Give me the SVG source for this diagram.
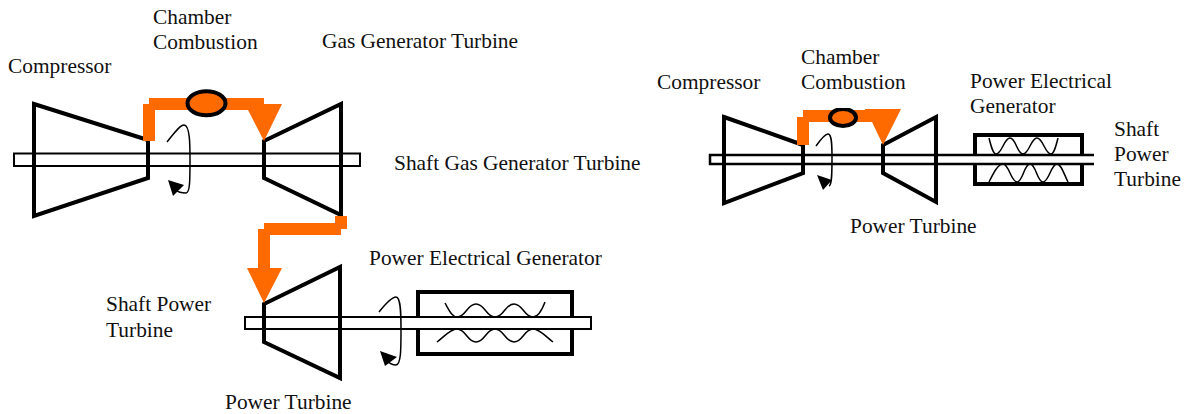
<svg xmlns="http://www.w3.org/2000/svg" width="1192" height="414" viewBox="0 0 1192 414">
<style>
text{font-family:"Liberation Serif","Times New Roman",serif;font-size:21.4px;fill:#111}
.t{fill:none;stroke:#000;stroke-width:4;stroke-linejoin:miter}
.s{fill:#fff;stroke:#000;stroke-width:2}
.o{fill:#ff6a00}
.e{fill:#ff6a00;stroke:#000;stroke-width:4}
.w{fill:none;stroke:#000;stroke-width:1.5}
.h{fill:#000}
</style>
<defs><clipPath id="c"><rect x="820" y="108" width="50" height="30"/></clipPath></defs>
<rect width="1192" height="414" fill="#fff"/>
<g id="generator-left">
<rect class="t" x="418" y="292" width="154" height="62"/>
<path class="w" d="M445 303C449 310 452 317 457 317C466 317 467 304 476 304C485 304 486 317 495 317C504 317 505 304 514 304C523 304 524 317 533 317C538 317 542 310 545 302"/>
<path class="w" d="M437 342C444 337 450 329 457 329C466 329 467 342 476 342C485 342 486 329 495 329C504 329 505 342 514 342C523 342 524 329 533 329C540 329 546 337 553 342"/>
</g>
<g id="generator-right">
<rect class="t" x="975" y="135" width="107" height="49"/>
<path class="w" d="M989 138C991 146 993 154 996 154C1002 154 1004 138 1010 138C1016 138 1017 154 1023 154C1029 154 1031 138 1037 138C1043 138 1045 154 1051 154C1054 154 1056 146 1058 138"/>
<path class="w" d="M989 182C994 172 998 164 1003 164C1009 164 1011 182 1017 182C1023 182 1024 164 1030 164C1036 164 1037 182 1043 182C1049 182 1051 164 1057 164C1061 164 1064 174 1068 182"/>
</g>
<g id="shafts">
<rect class="s" x="14" y="153.500" width="346" height="12.500"/>
<rect class="s" x="245" y="317" width="346" height="12"/>
<path d="M1094 155H710V164H1094" fill="#fff" stroke="#000" stroke-width="2.500"/>
</g>
<g id="compressor-left"><path class="t" d="M34 104L148 140V178L34 216Z"/></g>
<g id="gas-generator-turbine"><path class="t" d="M264 141L341 104V215L264 178Z"/></g>
<g id="power-turbine-left"><path class="t" d="M264 304L340 267V378L264 342Z"/></g>
<g id="compressor-right"><path class="t" d="M724 117L803 145V173L724 203Z"/></g>
<g id="power-turbine-right"><path class="t" d="M883 145L936 117V202L883 173Z"/></g>
<g id="connectors">
<path class="o" d="M143 141V104H149V98H264V104H282L264 141L248 110H155V141Z"/>
<path class="o" d="M335 216H347V229H341V235H270V268H282L264 303L247 268H258V229H264V223H335Z"/>
<path class="o" d="M797 145V117H803V110H865V109H901L883 145L872 122H809V145Z"/>
<path class="w" d="M167 142C175 132 180 125 184 125C190 125 190 145 190 160C190 180 190 193 186 193C182 193 178 192 176 190"/>
<path class="h" d="M168 180L184 185L173 196Z"/>
<path class="w" d="M379 312C387 302 392 297 396 297C401 297 401 315 401 330C401 350 401 364 396 365C392 365 388 362 386 360"/>
<path class="h" d="M380 351L397 357L385 366Z"/>
<path class="w" d="M816 146C821 139 825 134 828 134C832 134 832 146 832 158C832 172 832 185 829 186"/>
<path class="h" d="M817 175L832 180L823 190Z"/>
</g>
<g id="combustor-left"><ellipse class="e" cx="206.500" cy="103.300" rx="19" ry="12"/></g>
<g id="combustor-right"><ellipse class="e" cx="843" cy="117.500" rx="13" ry="8.500" clip-path="url(#c)"/></g>
<g id="labels">
<text x="8" y="73">Compressor</text>
<text x="153" y="24">Chamber</text>
<text x="153" y="49">Combustion</text>
<text x="322" y="48">Gas Generator Turbine</text>
<text x="394" y="170">Shaft Gas Generator Turbine</text>
<text x="369" y="265">Power Electrical Generator</text>
<text x="106" y="311">Shaft Power</text>
<text x="106" y="337">Turbine</text>
<text x="225" y="409">Power Turbine</text>
<text x="657" y="89">Compressor</text>
<text x="801" y="64">Chamber</text>
<text x="801" y="89">Combustion</text>
<text x="970" y="88">Power Electrical</text>
<text x="970" y="113">Generator</text>
<text x="1114" y="136">Shaft</text>
<text x="1114" y="161">Power</text>
<text x="1114" y="186">Turbine</text>
<text x="850" y="233">Power Turbine</text>
</g>
</svg>
